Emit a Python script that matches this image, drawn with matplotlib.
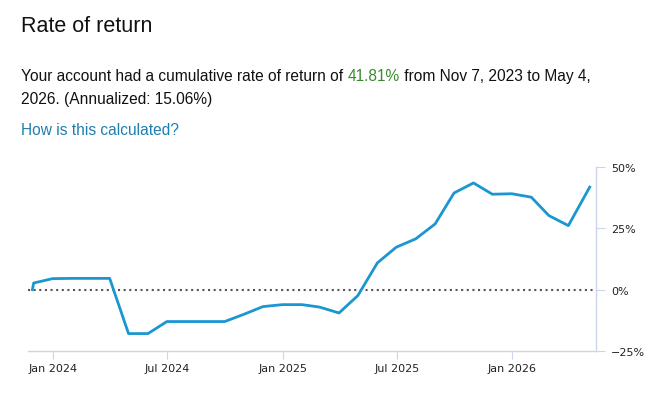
import matplotlib
matplotlib.use('Agg')
import matplotlib.pyplot as plt
import numpy as np

# data (cumulative return, %)
dates = ['2023-11-29', '2023-12-01', '2023-12-31', '2024-01-31', '2024-02-29',
         '2024-03-31', '2024-04-30', '2024-05-31', '2024-06-30', '2024-07-31',
         '2024-08-31', '2024-09-30', '2024-10-31', '2024-11-30', '2024-12-31',
         '2025-01-31', '2025-02-28', '2025-03-31', '2025-04-30', '2025-05-31',
         '2025-06-30', '2025-07-31', '2025-08-31', '2025-09-30', '2025-10-31',
         '2025-11-30', '2025-12-31', '2026-01-31', '2026-02-28', '2026-03-31',
         '2026-05-04']
returns = [0.0, 2.7, 4.5, 4.6, 4.6,
           4.6, -17.9, -17.9, -13.0, -13.0,
           -13.0, -13.0, -10.0, -6.9, -6.1,
           -6.1, -7.1, -9.5, -2.4, 10.9,
           17.3, 20.7, 26.8, 39.4, 43.5,
           38.9, 39.1, 37.7, 30.2, 26.1,
           41.81]
x_ticks = ['2024-01-01', '2024-07-01', '2025-01-01', '2025-07-01', '2026-01-01']
x_labels = ['Jan 2024', 'Jul 2024', 'Jan 2025', 'Jul 2025', 'Jan 2026']
y_ticks = [-25, 0, 25, 50]
y_labels = ['\u221225%', '0%', '25%', '50%']

x = np.array(dates, dtype='datetime64[D]')
xt = np.array(x_ticks, dtype='datetime64[D]')

W, H = 659, 402
fig = plt.figure(figsize=(W / 100, H / 100), dpi=100)

AXIS_C = '#ccd6eb'
LINE_C = '#1a96d0'

# chart area in pixel terms
left, right, bottom, top = 28, 596, 352, 168
ax = fig.add_axes([left / W, (H - bottom) / H, (right - left) / W, (bottom - top) / H])
ax.plot(x, returns, color=LINE_C, lw=2, solid_joinstyle='round', clip_on=False, zorder=3)
ax.axhline(0, color='#555555', lw=1.5, ls=(0, (1, 1.7)), zorder=2)

ax.set_xlim(np.datetime64('2023-11-22'), np.datetime64('2026-05-14'))
ax.set_ylim(-25, 50)

for s in ['top', 'left']:
    ax.spines[s].set_visible(False)
for s in ['bottom', 'right']:
    ax.spines[s].set_color(AXIS_C)
    ax.spines[s].set_linewidth(1)

ax.set_xticks(xt)
ax.set_xticklabels(x_labels, fontsize=8, family='DejaVu Sans', color='#222222')
ax.yaxis.tick_right()
ax.set_yticks(y_ticks)
ax.set_yticklabels(y_labels, fontsize=8, family='DejaVu Sans', color='#222222')
ax.tick_params(axis='x', length=5.5, color=AXIS_C, pad=3)
ax.tick_params(axis='y', length=6.5, color=AXIS_C, pad=4.5)
ax.patch.set_alpha(0)

# header texts
fig.text(21 / W, 1 - 32 / H, 'Rate of return', fontsize=15.5, family='Liberation Sans',
         color='#111111', va='baseline')

font = dict(fontsize=11.2, family='Liberation Sans', va='baseline')
renderer = fig.canvas.get_renderer()


def text_width(s):
    t = fig.text(0, 0, s, **font)
    w = t.get_window_extent(renderer=renderer).width
    t.remove()
    return w


# widths measured on whole prefixes, closed with a visible char so spaces count
bar = text_width('|')
pieces = [('Your account had a cumulative rate of return of ', '#111111'),
          ('41.81%', '#3a8a2e'),
          (' from Nov 7, 2023 to May 4,', '#111111')]
prefix = ''
for txt, col in pieces:
    xoff = text_width(prefix + '|') - bar if prefix else 0
    fig.text((21 + xoff) / W, 1 - 81 / H, txt, color=col, **font)
    prefix += txt
fig.text(21 / W, 1 - 104 / H, '2026. (Annualized: 15.06%)', color='#111111', **font)
fig.text(21 / W, 1 - 135 / H, 'How is this calculated?', color='#1f7fae', **font)

fig.savefig('out.png', dpi=100)
